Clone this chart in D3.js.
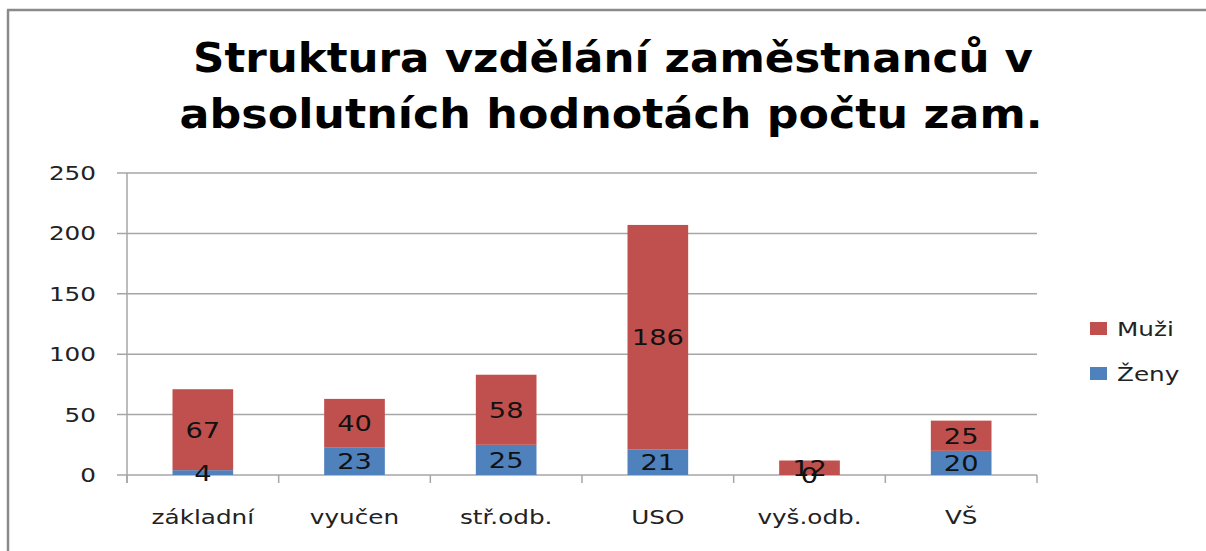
<!DOCTYPE html>
<html><head><meta charset="utf-8">
<script src="https://cdn.jsdelivr.net/npm/d3@7"></script>
<style>body{margin:0;background:#fff}svg{display:block}</style>
</head><body><svg id="c" width="1206" height="551"></svg>
<script>
const categories = ["základní","vyučen","stř.odb.","USO","vyš.odb.","VŠ"];
const zeny = [4,23,25,21,0,20];
const muzi = [67,40,58,186,12,25];
const seriesNames = ["Ženy","Muži"];
const yTicks = [0,50,100,150,200,250];
const titleLines = ["Struktura vzdělání zaměstnanců v","absolutních hodnotách počtu zam."];
const colors = {"Ženy":"#4F81BD","Muži":"#C0504D"};

const svg = d3.select("#c");
const font = "DejaVu Sans";
const sx = 1.3;

// frame
svg.append("line").attr("x1",8).attr("x2",8).attr("y1",10).attr("y2",551).attr("stroke","#8a8a8a").attr("stroke-width",2.5);
svg.append("line").attr("x1",7).attr("x2",1206).attr("y1",10).attr("y2",10).attr("stroke","#8a8a8a").attr("stroke-width",2.5);

// title
const tl = [{y:72,w:840,cx:613},{y:128,w:863,cx:611}];
titleLines.forEach((t,i)=>{
  svg.append("text").attr("x",tl[i].cx).attr("y",tl[i].y).attr("text-anchor","middle")
    .attr("font-family",font).attr("font-weight","bold").attr("font-size",40)
    .attr("textLength",tl[i].w).attr("lengthAdjust","spacingAndGlyphs").attr("fill","#000").text(t);
});

const x = d3.scaleBand().domain(categories).range([127,1037]).paddingInner(0.6).paddingOuter(0.3);
const y = d3.scaleLinear().domain([0,250]).range([475,173]);

// gridlines
svg.append("g").selectAll("line").data(yTicks).join("line")
  .attr("x1",117).attr("x2",1037).attr("y1",d=>y(d)).attr("y2",d=>y(d))
  .attr("stroke","#a6a6a6").attr("stroke-width",1.5);
// y axis line
svg.append("line").attr("x1",127).attr("x2",127).attr("y1",y(250)).attr("y2",y(0)+8).attr("stroke","#a6a6a6").attr("stroke-width",1.5);
// category ticks
const step = (1037-127)/categories.length;
svg.append("g").selectAll("line").data(d3.range(categories.length+1)).join("line")
  .attr("x1",d=>127+d*step).attr("x2",d=>127+d*step).attr("y1",y(0)).attr("y2",y(0)+8)
  .attr("stroke","#a6a6a6").attr("stroke-width",1.5);

function txt(g,xp,yp,s,size,anchor,fill){
  return g.append("text").attr("transform",`translate(${xp},${yp}) scale(${sx},1)`)
    .attr("text-anchor",anchor).attr("font-family",font).attr("font-size",size).attr("fill",fill||"#000").text(s);
}
// y tick labels
const gy = svg.append("g");
yTicks.forEach(t=>txt(gy,96,y(t)+7,t,19,"end","#222"));
// x labels
const gx = svg.append("g");
categories.forEach(c=>txt(gx,x(c)+x.bandwidth()/2,524,c,19,"middle","#222"));

// stacked bars
const rows = categories.map((c,i)=>({cat:c,"Ženy":zeny[i],"Muži":muzi[i]}));
const stack = d3.stack().keys(seriesNames)(rows);
const gb = svg.append("g");
stack.forEach(s=>{
  gb.selectAll(null).data(s).join("rect")
    .attr("x",d=>x(d.data.cat)).attr("width",x.bandwidth())
    .attr("y",d=>y(d[1])).attr("height",d=>y(d[0])-y(d[1]))
    .attr("fill",colors[s.key]);
});
const gl = svg.append("g");
stack.forEach(s=>{
  s.forEach(d=>{
    txt(gl,x(d.data.cat)+x.bandwidth()/2,(y(d[0])+y(d[1]))/2+8,d[1]-d[0],21,"middle","#111");
  });
});

// legend
const leg = svg.append("g");
[["Muži",322],["Ženy",367]].forEach(([n,yy])=>{
  leg.append("rect").attr("x",1090).attr("y",yy).attr("width",17).attr("height",13).attr("fill",colors[n]);
  txt(leg,1117,yy+14,n,19,"start","#222");
});
</script></body></html>
